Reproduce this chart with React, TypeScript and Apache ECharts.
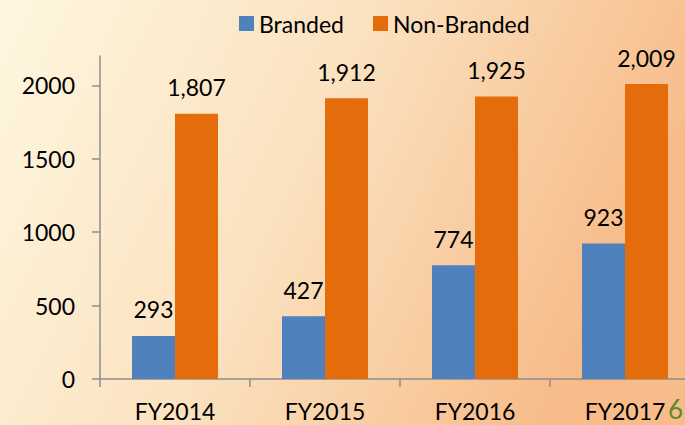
import React, { useEffect, useRef } from "react";
import * as echarts from "echarts";

const categories = ["FY2014", "FY2015", "FY2016", "FY2017"];
const branded = [293, 427, 774, 923];
const nonBranded = [1807, 1912, 1925, 2009];
const yTicks = [0, 500, 1000, 1500, 2000];
const seriesNames = ["Branded", "Non-Branded"];

const FONT = "Lato";
const fmt = (v: number) => new Intl.NumberFormat("en-US").format(v);

export default function App() {
  const ref = useRef<HTMLDivElement>(null);
  useEffect(() => {
    if (!ref.current) return;
    const chart = echarts.init(ref.current, null, { renderer: "svg" });
    const axisColor = "#8E8E8E";
    const labelStyle = {
      show: true,
      position: "top" as const,
      distance: 15,
      fontFamily: FONT,
      fontSize: 23,
      color: "#000",
      formatter: (p: any) => fmt(p.value),
    };
    chart.setOption({
      animation: false,
      backgroundColor: new echarts.graphic.LinearGradient(0, 0, 1, 0.3, [
        { offset: 0, color: "#FEF7E0" },
        { offset: 0.5, color: "#FBE2C0" },
        { offset: 1, color: "#F7BC8A" },
      ]),
      textStyle: { fontFamily: FONT },
      legend: {
        left: 234,
        top: 7,
        itemWidth: 15,
        itemHeight: 15,
        itemGap: 29,
        icon: "rect",
        textStyle: { fontFamily: FONT, fontSize: 23, color: "#000" },
        data: seriesNames,
      },
      grid: {
        left: 100,
        right: -15,
        top: 56,
        bottom: 46,
        containLabel: false,
        outerBoundsMode: "none",
      },
      xAxis: {
        type: "category",
        data: categories,
        axisLine: { lineStyle: { color: axisColor, width: 1.5 } },
        axisTick: { show: true, length: 8, lineStyle: { color: axisColor, width: 1.5 } },
        axisLabel: { margin: 20, fontFamily: FONT, fontSize: 23, color: "#000" },
        splitLine: { show: false },
      },
      yAxis: {
        type: "value",
        min: 0,
        max: 2200,
        interval: 500,
        axisLine: { show: true, lineStyle: { color: axisColor, width: 1.5 } },
        axisTick: {
          show: true,
          length: 8,
          customValues: yTicks,
          lineStyle: { color: axisColor, width: 1.5 },
        },
        axisLabel: {
          margin: 25,
          customValues: yTicks,
          formatter: (v: number) => String(v),
          fontFamily: FONT,
          fontSize: 23,
          color: "#000",
        },
        splitLine: { show: false },
      },
      series: [
        {
          name: seriesNames[0],
          type: "bar",
          data: branded,
          barWidth: 43,
          barGap: "0%",
          itemStyle: { color: "#4F81BD" },
          label: labelStyle,
        },
        {
          name: seriesNames[1],
          type: "bar",
          data: nonBranded,
          barWidth: 43,
          barGap: "0%",
          itemStyle: { color: "#E46C0A" },
          label: labelStyle,
        },
      ],
      graphic: [
        {
          type: "text",
          left: 668,
          top: 396,
          style: { text: "6", fontSize: 26, fontFamily: FONT, fill: "#5E8A2E" },
        },
      ],
    });
    return () => chart.dispose();
  }, []);
  return (
    <div
      ref={ref}
      style={{ position: "fixed", left: 0, top: 0, width: 685, height: 425 }}
    />
  );
}
